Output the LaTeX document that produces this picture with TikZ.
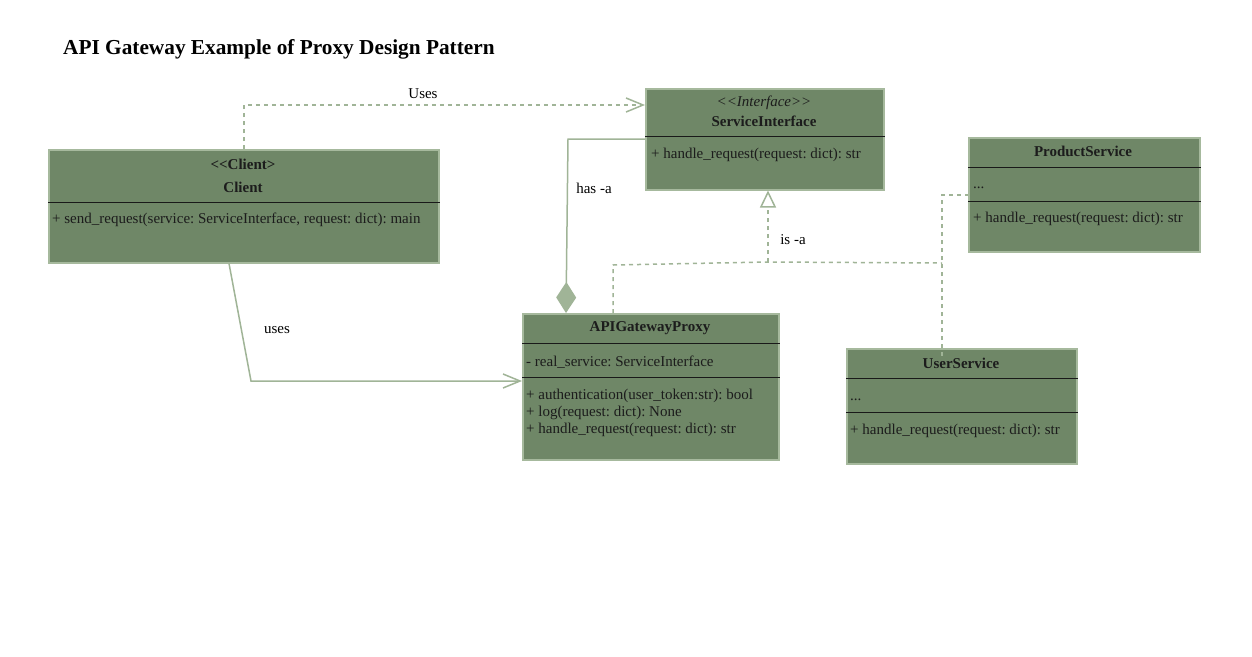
\documentclass[tikz,border=0pt]{standalone}
\usepackage{fontspec}
\setmainfont{Liberation Serif}
\usetikzlibrary{arrows.meta}
\definecolor{boxfill}{HTML}{6F8767}
\definecolor{boxedge}{HTML}{A6B99D}
\definecolor{conn}{HTML}{A0B497}
\definecolor{txt}{HTML}{1C1C1C}
\frenchspacing
\begin{document}
\frenchspacing
\begin{tikzpicture}[x=1pt,y=-1pt,
  cls/.style={draw=boxedge, fill=boxfill, line width=1.5pt, anchor=north west, inner sep=0pt},
  sepline/.style={draw=black!90, line width=1pt},
  hdr/.style={font=\fontsize{15}{18}\selectfont\bfseries, text=txt, inner sep=0pt},
  ster/.style={font=\fontsize{15}{18}\selectfont\itshape, text=txt, inner sep=0pt},
  mem/.style={font=\fontsize{15}{18}\selectfont, text=txt, inner sep=0pt, anchor=west},
  lbl/.style={font=\fontsize{15}{18}\selectfont, text=black, inner sep=0pt},
  solidconn/.style={draw=conn, line width=1.5pt},
  dashconn/.style={draw=conn, line width=1.5pt, dash pattern=on 4pt off 4pt},
  openv/.style={-{Straight Barb[length=17pt,width=14pt,line width=1.5pt]}},
]
\useasboundingbox (0,0) rectangle (1252,656);
\fill[white] (0,0) rectangle (1252,656);

% title
\node[font=\fontsize{21.3}{25}\selectfont\bfseries, anchor=west, inner sep=0pt] (title) at (63,49) {API Gateway Example of Proxy Design Pattern};

% Client
\node[cls, minimum width=390pt, minimum height=113pt] (client) at (48,149) {};
\node[hdr] (clientst) at (243,164) {<{}<Client>};
\node[hdr] (clientnm) at (243,187) {Client};
\draw[sepline] (client.west |- 0,202) -- (client.east |- 0,202);
\node[mem] (clientm1) at (52,220) {+ send\_request(service: ServiceInterface, request: dict): main};

% ServiceInterface
\node[cls, minimum width=238pt, minimum height=101pt] (si) at (645,88) {};
\node[ster] (sist) at (764,103) {<{}<Interface>{}>};
\node[hdr] (sinm) at (764,121) {ServiceInterface};
\draw[sepline] (si.west |- 0,136) -- (si.east |- 0,136);
\node[mem] (sim1) at (651,155) {+ handle\_request(request: dict): str};

% ProductService
\node[cls, minimum width=231pt, minimum height=114pt] (ps) at (968,137) {};
\node[hdr] (psnm) at (1083,151) {ProductService};
\draw[sepline] (ps.west |- 0,167) -- (ps.east |- 0,167);
\node[mem] (psa1) at (973,188) {...};
\draw[sepline] (ps.west |- 0,201) -- (ps.east |- 0,201);
\node[mem] (psm1) at (973,219) {+ handle\_request(request: dict): str};

% APIGatewayProxy
\node[cls, minimum width=256pt, minimum height=146pt] (proxy) at (522,313) {};
\node[hdr] (proxynm) at (650,328) {APIGatewayProxy};
\draw[sepline] (proxy.west |- 0,343) -- (proxy.east |- 0,343);
\node[mem] (proxya1) at (526,362) {- real\_service: ServiceInterface};
\draw[sepline] (proxy.west |- 0,377) -- (proxy.east |- 0,377);
\node[mem] (proxym1) at (526,396) {+ authentication(user\_token:str): bool};
\node[mem] (proxym2) at (526,413) {+ log(request: dict): None};
\node[mem] (proxym3) at (526,430) {+ handle\_request(request: dict): str};

% UserService
\node[cls, minimum width=230pt, minimum height=115pt] (us) at (846,348) {};
\node[hdr] (usnm) at (961,363) {UserService};
\draw[sepline] (us.west |- 0,378) -- (us.east |- 0,378);
\node[mem] (usa1) at (850,400) {...};
\draw[sepline] (us.west |- 0,412) -- (us.east |- 0,412);
\node[mem] (usm1) at (850,431) {+ handle\_request(request: dict): str};

% Uses (dashed)
\draw[dashconn, openv] (client.north) -- (client.north |- 0,105) -- (si.west |- 0,105);
\node[lbl] (usesl) at (423,94) {Uses};

% uses (solid)
\draw[solidconn, openv] (client.south -| 229,0) -- (251,381) -- (proxy.west |- 0,381);
\node[lbl] (usesl2) at (277,330) {uses};

% has -a (composition)
\draw[solidconn, {Diamond[length=31pt,width=20pt,fill=conn]}-] (proxy.north -| 566,0) -- (568,139) -- (si.west |- 0,139);
\node[lbl] (hasl) at (594,188) {has -a};

% is -a (realization)
\coordinate (jn) at (768,262);
\draw[dashconn, -{Triangle[open,length=17pt,width=16pt,fill=white,line width=1.5pt]}] (jn) -- (jn |- si.south);
\draw[dashconn] (proxy.north -| 613,0) -- (613,265) -- (jn) -- (942,263);
\draw[dashconn] ([yshift=-8pt]us.north -| 942,0) -- (942,195) -- (ps.west |- 0,195);
\node[lbl] (isl) at (793,240) {is -a};
\end{tikzpicture}
\end{document}
